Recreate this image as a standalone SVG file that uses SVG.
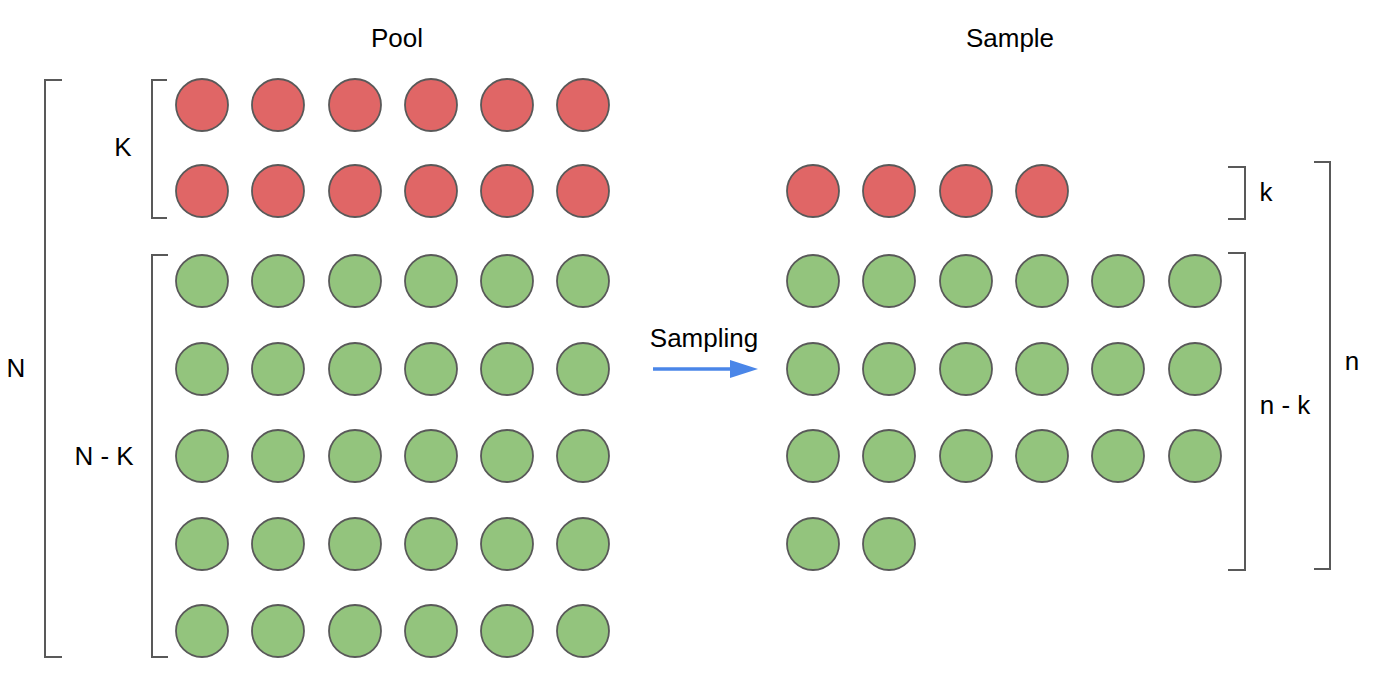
<svg xmlns="http://www.w3.org/2000/svg" width="1376" height="693" viewBox="0 0 1376 693">
<defs>
<style>
.r{fill:#e06666;stroke:#595959;stroke-width:1.8}
.g{fill:#93c47d;stroke:#595959;stroke-width:1.8}
.b{fill:none;stroke:#595959;stroke-width:2}
text{font-family:"Liberation Sans",Arial,sans-serif;font-size:26px;fill:#000}
</style>
</defs>
<rect width="1376" height="693" fill="#fff"/>
<g id="titles">
<text x="397" y="47" text-anchor="middle">Pool</text>
<text x="1010" y="47" text-anchor="middle">Sample</text>
</g>
<g id="pool-red">
<circle class="r" cx="202" cy="105" r="26"/><circle class="r" cx="278" cy="105" r="26"/><circle class="r" cx="355" cy="105" r="26"/><circle class="r" cx="431" cy="105" r="26"/><circle class="r" cx="507" cy="105" r="26"/><circle class="r" cx="583" cy="105" r="26"/>
<circle class="r" cx="202" cy="191" r="26"/><circle class="r" cx="278" cy="191" r="26"/><circle class="r" cx="355" cy="191" r="26"/><circle class="r" cx="431" cy="191" r="26"/><circle class="r" cx="507" cy="191" r="26"/><circle class="r" cx="583" cy="191" r="26"/>
</g>
<g id="pool-green">
<circle class="g" cx="202" cy="281" r="26"/><circle class="g" cx="278" cy="281" r="26"/><circle class="g" cx="355" cy="281" r="26"/><circle class="g" cx="431" cy="281" r="26"/><circle class="g" cx="507" cy="281" r="26"/><circle class="g" cx="583" cy="281" r="26"/>
<circle class="g" cx="202" cy="369" r="26"/><circle class="g" cx="278" cy="369" r="26"/><circle class="g" cx="355" cy="369" r="26"/><circle class="g" cx="431" cy="369" r="26"/><circle class="g" cx="507" cy="369" r="26"/><circle class="g" cx="583" cy="369" r="26"/>
<circle class="g" cx="202" cy="456" r="26"/><circle class="g" cx="278" cy="456" r="26"/><circle class="g" cx="355" cy="456" r="26"/><circle class="g" cx="431" cy="456" r="26"/><circle class="g" cx="507" cy="456" r="26"/><circle class="g" cx="583" cy="456" r="26"/>
<circle class="g" cx="202" cy="544" r="26"/><circle class="g" cx="278" cy="544" r="26"/><circle class="g" cx="355" cy="544" r="26"/><circle class="g" cx="431" cy="544" r="26"/><circle class="g" cx="507" cy="544" r="26"/><circle class="g" cx="583" cy="544" r="26"/>
<circle class="g" cx="202" cy="631" r="26"/><circle class="g" cx="278" cy="631" r="26"/><circle class="g" cx="355" cy="631" r="26"/><circle class="g" cx="431" cy="631" r="26"/><circle class="g" cx="507" cy="631" r="26"/><circle class="g" cx="583" cy="631" r="26"/>
</g>
<g id="sample-red">
<circle class="r" cx="813" cy="191" r="26"/><circle class="r" cx="889" cy="191" r="26"/><circle class="r" cx="966" cy="191" r="26"/><circle class="r" cx="1042" cy="191" r="26"/>
</g>
<g id="sample-green">
<circle class="g" cx="813" cy="281" r="26"/><circle class="g" cx="889" cy="281" r="26"/><circle class="g" cx="966" cy="281" r="26"/><circle class="g" cx="1042" cy="281" r="26"/><circle class="g" cx="1118" cy="281" r="26"/><circle class="g" cx="1195" cy="281" r="26"/>
<circle class="g" cx="813" cy="369" r="26"/><circle class="g" cx="889" cy="369" r="26"/><circle class="g" cx="966" cy="369" r="26"/><circle class="g" cx="1042" cy="369" r="26"/><circle class="g" cx="1118" cy="369" r="26"/><circle class="g" cx="1195" cy="369" r="26"/>
<circle class="g" cx="813" cy="456" r="26"/><circle class="g" cx="889" cy="456" r="26"/><circle class="g" cx="966" cy="456" r="26"/><circle class="g" cx="1042" cy="456" r="26"/><circle class="g" cx="1118" cy="456" r="26"/><circle class="g" cx="1195" cy="456" r="26"/>
<circle class="g" cx="813" cy="544" r="26"/><circle class="g" cx="889" cy="544" r="26"/>
</g>
<g id="brackets">
<path class="b" d="M62,80 L45,80 L45,657 L62,657"/>
<path class="b" d="M167,80 L152,80 L152,218 L167,218"/>
<path class="b" d="M168,255 L152,255 L152,657 L168,657"/>
<path class="b" d="M1228,167 L1245,167 L1245,219 L1228,219"/>
<path class="b" d="M1228,253 L1245,253 L1245,570 L1228,570"/>
<path class="b" d="M1314,162 L1330,162 L1330,569 L1314,569"/>
</g>
<g id="labels">
<text x="123" y="156" text-anchor="middle">K</text>
<text x="16" y="377" text-anchor="middle">N</text>
<text x="104" y="465" text-anchor="middle">N - K</text>
<text x="1266" y="201" text-anchor="middle">k</text>
<text x="1285" y="414" text-anchor="middle">n - k</text>
<text x="1352" y="370" text-anchor="middle">n</text>
</g>
<g id="connectors">
<line x1="653" y1="369" x2="732" y2="369" stroke="#4a86e8" stroke-width="3.5"/>
<polygon points="730,360 758,369 730,378" fill="#4a86e8"/>
<text x="704" y="347" text-anchor="middle">Sampling</text>
</g>
</svg>
